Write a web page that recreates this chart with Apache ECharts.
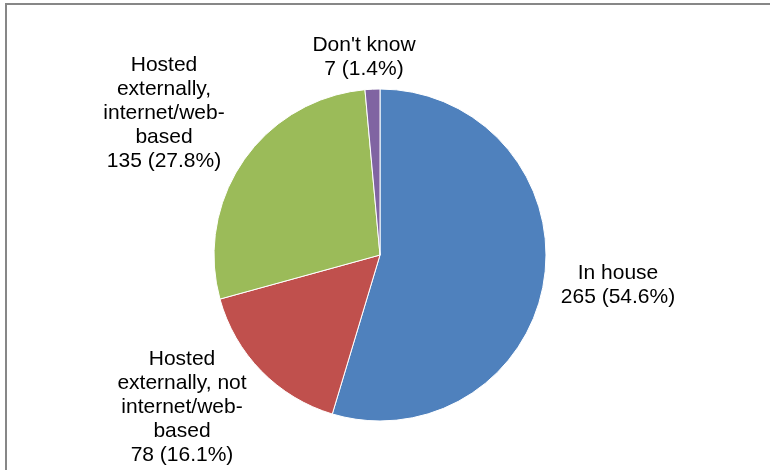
<!DOCTYPE html>
<html>
<head>
<meta charset="utf-8">
<script src="https://cdn.jsdelivr.net/npm/echarts@6/dist/echarts.min.js"></script>
<style>
  html, body { margin: 0; padding: 0; background: #fff; }
  #chart { width: 770px; height: 470px; }
</style>
</head>
<body>
<div id="chart"></div>
<script>
// data
const categories = ['In house', 'Hosted externally, not internet/web-based', 'Hosted externally, internet/web-based', "Don't know"]
const labelText = ['In house', 'Hosted\nexternally, not\ninternet/web-\nbased', 'Hosted\nexternally,\ninternet/web-\nbased', "Don't know"]
const counts = [265, 78, 135, 7]
const percents = ['54.6', '16.1', '27.8', '1.4']
const colors = ['#4F81BD', '#C0504D', '#9BBB59', '#8064A2']

// where each label sits (label centre)
const labelPos = [[618, 285], [182, 407], [164, 113], [364, 57]]

const chart = echarts.init(document.getElementById('chart'))

chart.setOption({
  animation: false,
  graphic: [
    {
      type: 'rect',
      shape: { x: 6, y: 4, width: 800, height: 500 },
      style: { fill: 'none', stroke: '#878787', lineWidth: 2 },
      z: -1
    }
  ],
  series: [
    {
      type: 'pie',
      center: [380, 255],
      radius: 166,
      startAngle: 90,
      clockwise: true,
      itemStyle: { borderColor: '#fff', borderWidth: 1 },
      label: {
        show: true,
        position: 'outside',
        fontFamily: 'Liberation Sans, Arial, sans-serif',
        fontSize: 21,
        lineHeight: 24,
        color: '#000',
        align: 'center',
        formatter: (p) => labelText[p.dataIndex] + '\n' + counts[p.dataIndex] + ' (' + percents[p.dataIndex] + '%)'
      },
      labelLine: { show: false },
      labelLayout: (params) => {
        const pos = labelPos[params.dataIndex]
        return {
          x: pos[0],
          y: pos[1],
          align: 'center',
          verticalAlign: 'middle'
        }
      },
      data: categories.map((name, i) => ({
        name: name,
        value: counts[i],
        itemStyle: { color: colors[i] }
      }))
    }
  ]
})
</script>
</body>
</html>
